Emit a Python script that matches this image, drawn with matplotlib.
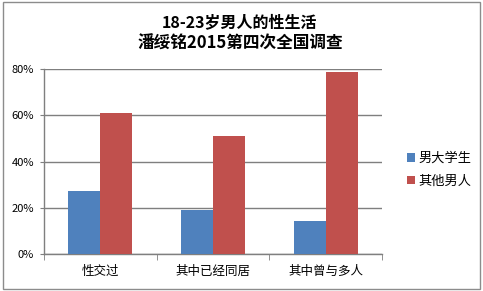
import numpy as np
import matplotlib
matplotlib.use("Agg")
import matplotlib.pyplot as plt
from matplotlib.patches import Rectangle
from matplotlib.ticker import PercentFormatter

plt.rcParams['font.family'] = ['Noto Sans CJK SC', 'DejaVu Sans']

categories = ["性交过", "其中已经同居", "其中曾与多人"]
college_men = [27.2, 19.0, 14.3]
other_men = [60.8, 51.1, 78.6]
yticks = [0, 20, 40, 60, 80]

BLUE = "#4F81BD"
RED = "#C0504D"
GRID = "#7f7f7f"

fig = plt.figure(figsize=(4.83, 2.91), dpi=100)
ax = fig.add_axes([0.091, 0.127, 0.700, 0.636])

x = np.arange(len(categories))
w = 0.284
ax.bar(x - w / 2, college_men, w, color=BLUE, label="男大学生", zorder=3)
ax.bar(x + w / 2, other_men, w, color=RED, label="其他男人", zorder=3)

ax.set_xlim(-0.5, len(categories) - 0.5)
ax.set_ylim(0, 80)
ax.set_yticks(yticks)
ax.yaxis.set_major_formatter(PercentFormatter(decimals=0))
ax.grid(axis="y", color=GRID, linewidth=1.0, zorder=0)

ax.set_xticks(x)
ax.set_xticklabels(categories, fontsize=9)
ax.set_xticks(np.arange(len(categories) + 1) - 0.5, minor=True)
ax.tick_params(axis="x", which="major", length=0, pad=8)
ax.tick_params(axis="x", which="minor", length=4, color=GRID, direction="out")
ax.tick_params(axis="y", length=3, color=GRID, labelsize=8, pad=4)

for side in ["top", "right"]:
    ax.spines[side].set_visible(False)
for side in ["left", "bottom"]:
    ax.spines[side].set_color(GRID)
    ax.spines[side].set_linewidth(1.0)

fig.legend(loc="center left", bbox_to_anchor=(0.818, 0.416), frameon=False,
           fontsize=9.5, handlelength=0.6, handleheight=0.6, handletextpad=0.3,
           labelspacing=0.75)

fig.text(0.495, 0.925, "18-23岁男人的性生活", ha="center", va="center",
         fontsize=11.5, fontweight="bold")
fig.text(0.497, 0.85, "潘绥铭2015第四次全国调查", ha="center", va="center",
         fontsize=12, fontweight="bold")

fig.patches.append(Rectangle((0.006, 0.007), 0.988, 0.986, transform=fig.transFigure,
                             fill=False, edgecolor="#8c8c8c", linewidth=1))

fig.savefig("out.png", dpi=100)
